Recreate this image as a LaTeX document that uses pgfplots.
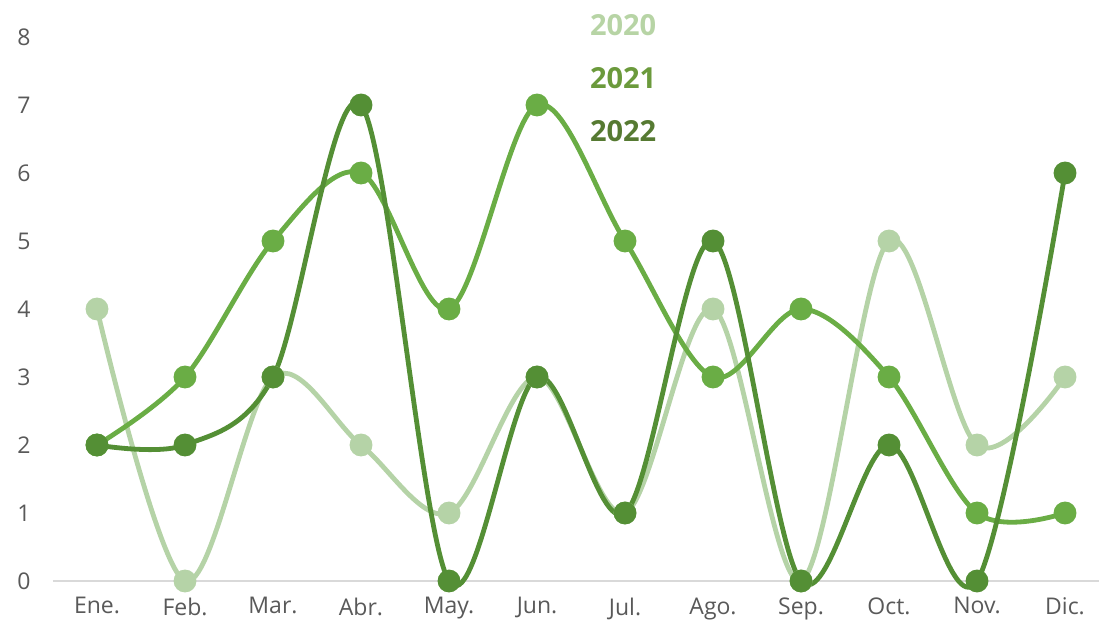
\documentclass[border=0pt]{standalone}
\usepackage{fontspec}
\setmainfont{Open Sans}
\usepackage{pgfplots}
\pgfplotsset{compat=1.18}
\usetikzlibrary{calc}
\definecolor{cA}{HTML}{B5D3A7}
\definecolor{cB}{HTML}{6AAD45}
\definecolor{cC}{HTML}{548F35}
\definecolor{lA}{HTML}{B7D4A5}
\definecolor{lB}{HTML}{6B9A3C}
\definecolor{lC}{HTML}{567A32}
\definecolor{tk}{HTML}{595959}
\begin{document}
\begin{tikzpicture}
\begin{axis}[name=ax,
  scale only axis, width=1046pt, height=544pt,
  xmin=-0.5, xmax=11.386, ymin=0, ymax=8,
  axis line style={draw=none},
  xtick={0,...,11},
  xticklabels={Ene.,Feb.,Mar.,Abr.,May.,Jun.,Jul.,Ago.,Sep.,Oct.,Nov.,Dic.},
  ytick={0,...,8},
  major tick length=0pt,
  tick label style={font=\fontsize{23}{26}\selectfont, text=tk},
  /pgf/number format/assume math mode=true,
  xticklabel style={yshift=-13pt},
  yticklabel style={xshift=-19pt},
  clip=false,
  every axis plot/.append style={line width=4.8pt, smooth, tension=0.55, mark=*, mark size=9pt},
]
\draw[color=black!15, line width=2pt] (axis cs:-0.5,0) -- (axis cs:11.386,0);
\addplot[color=cA, mark options={fill=cA, draw=cA}] coordinates {
(0,4)(1,0)(2,3)(3,2)(4,1)(5,3)(6,1)(7,4)(8,0)(9,5)(10,2)(11,3)};
\addplot[color=cB, mark options={fill=cB, draw=cB}] coordinates {
(0,2)(1,3)(2,5)(3,6)(4,4)(5,7)(6,5)(7,3)(8,4)(9,3)(10,1)(11,1)};
\addplot[color=cC, mark options={fill=cC, draw=cC}] coordinates {
(0,2)(1,2)(2,3)(3,7)(4,0)(5,3)(6,1)(7,5)(8,0)(9,2)(10,0)(11,6)};
\node[anchor=west, inner sep=0pt, text=lA, font=\fontsize{29}{32}\selectfont\bfseries] at (axis cs:5.6,8.17) {2020};
\node[anchor=west, inner sep=0pt, text=lB, font=\fontsize{29}{32}\selectfont\bfseries] at (axis cs:5.6,7.39) {2021};
\node[anchor=west, inner sep=0pt, text=lC, font=\fontsize{29}{32}\selectfont\bfseries] at (axis cs:5.6,6.61) {2022};
\end{axis}
\pgfresetboundingbox
\path ($(ax.south west)+(-53pt,-47pt)$) rectangle ($(ax.north east)+(0pt,37pt)$);
\end{tikzpicture}
\end{document}
